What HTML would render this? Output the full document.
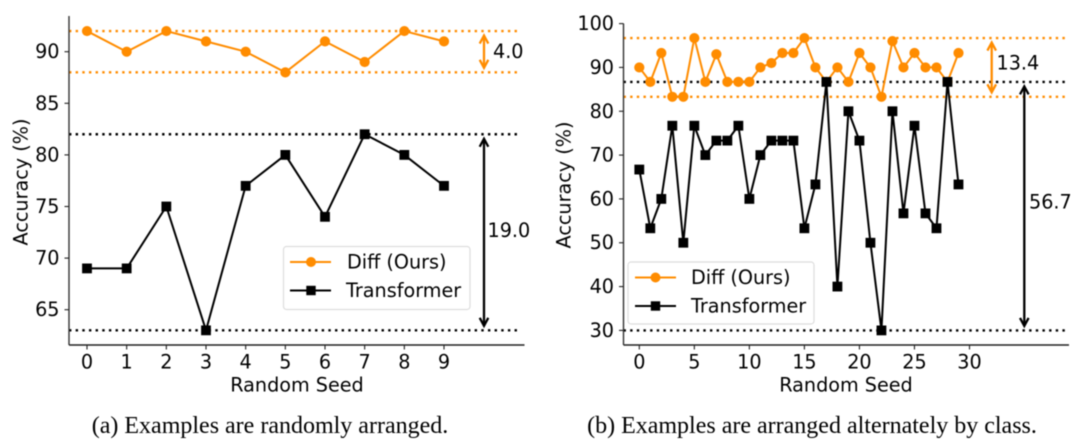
<!DOCTYPE html>
<html lang="en">
<head>
<meta charset="utf-8">
<title>Accuracy by random seed</title>
<style>
  html, body { margin: 0; padding: 0; background: #fff; width: 1080px; height: 444px; overflow: hidden; }
  svg { display: block; filter: blur(0.4px); }
  text { font-family: "DejaVu Sans", "Liberation Sans", sans-serif; font-size: 19.2px; fill: #000; }
  .caption { font-family: "Liberation Serif", serif; font-size: 24px; fill: #000; }
</style>
</head>
<body>
<svg id="figure" width="1080" height="444" viewBox="0 0 1080 444" xmlns="http://www.w3.org/2000/svg">
  <rect x="0" y="0" width="1080" height="444" fill="#fff"/>
  <g id="panelA"></g>
  <g id="panelB"></g>

  <text transform="translate(21 182) rotate(-90)" text-anchor="middle" dominant-baseline="central">Accuracy (%)</text>
  <text x="297" y="385" text-anchor="middle" dominant-baseline="central">Random Seed</text>
  <text transform="translate(564 185) rotate(-90)" text-anchor="middle" dominant-baseline="central">Accuracy (%)</text>
  <text x="846" y="385" text-anchor="middle" dominant-baseline="central">Random Seed</text>

  <g>
    <rect x="283.5" y="246.5" width="186.5" height="63" rx="3" fill="#fff" fill-opacity="0.85" stroke="#ddd" stroke-width="1.2"/>
    <line x1="290" y1="262" x2="331" y2="262" stroke="#ff8c00" stroke-width="2"/>
    <circle cx="311" cy="262" r="5" fill="#ff8c00"/>
    <text x="347" y="262" dominant-baseline="central">Diff (Ours)</text>
    <line x1="290" y1="290.5" x2="331" y2="290.5" stroke="#000" stroke-width="2"/>
    <rect x="306.3" y="285.8" width="9.4" height="9.4" fill="#000"/>
    <text x="346" y="290.5" dominant-baseline="central">Transformer</text>
  </g>

  <g>
    <rect x="628" y="262" width="186" height="62" rx="3" fill="#fff" fill-opacity="0.85" stroke="#ddd" stroke-width="1.2"/>
    <line x1="635" y1="277.5" x2="676" y2="277.5" stroke="#ff8c00" stroke-width="2"/>
    <circle cx="655.5" cy="277.5" r="5" fill="#ff8c00"/>
    <text x="691" y="277.5" dominant-baseline="central">Diff (Ours)</text>
    <line x1="635" y1="306" x2="676" y2="306" stroke="#000" stroke-width="2"/>
    <rect x="650.8" y="301.3" width="9.4" height="9.4" fill="#000"/>
    <text x="691" y="306" dominant-baseline="central">Transformer</text>
  </g>

  <text class="caption" x="270" y="433" text-anchor="middle">(a) Examples are randomly arranged.</text>
  <text class="caption" x="812" y="433" text-anchor="middle">(b) Examples are arranged alternately by class.</text>
</svg>

<script>
// Panel (a) data
const seedsA = [0, 1, 2, 3, 4, 5, 6, 7, 8, 9];
const diffA = [92, 90, 92, 91, 90, 88, 91, 89, 92, 91];
const transformerA = [69, 69, 75, 63, 77, 80, 74, 82, 80, 77];
const xTicksA = [0, 1, 2, 3, 4, 5, 6, 7, 8, 9];
const yTicksA = [65, 70, 75, 80, 85, 90];
const diffBoundsA = [88, 92];
const transformerBoundsA = [63, 82];
const diffGapA = ['4.0'];
const transformerGapA = ['19.0'];

// Panel (b) data
const seedsB = [0, 1, 2, 3, 4, 5, 6, 7, 8, 9, 10, 11, 12, 13, 14, 15, 16, 17, 18, 19, 20, 21, 22, 23, 24, 25, 26, 27, 28, 29];
const diffB = [90, 86.7, 93.3, 83.3, 83.3, 96.7, 86.7, 93, 86.7, 86.7, 86.7, 90, 91, 93.3, 93.3, 96.7, 90, 86.7, 90, 86.7, 93.3, 90, 83.3, 96, 90, 93.3, 90, 90, 86.7, 93.3];
const transformerB = [66.7, 53.3, 60, 76.7, 50, 76.7, 70, 73.3, 73.3, 76.7, 60, 70, 73.3, 73.3, 73.3, 53.3, 63.3, 86.7, 40, 80, 73.3, 50, 30, 80, 56.7, 76.7, 56.7, 53.3, 86.7, 63.3];
const xTicksB = [0, 5, 10, 15, 20, 25, 30];
const yTicksB = [30, 40, 50, 60, 70, 80, 90, 100];
const diffBoundsB = [83.3, 96.7];
const transformerBoundsB = [30, 86.7];
const diffGapB = ['13.4'];
const transformerGapB = ['56.7'];

const SVG_NS = 'http://www.w3.org/2000/svg';
const ORANGE = '#ff8c00';
const BLACK = '#000';

function make(parent, tag, attrs) {
  const el = document.createElementNS(SVG_NS, tag);
  for (const k in attrs) el.setAttribute(k, attrs[k]);
  
  parent.appendChild(el);
  return el;
}

function linearScale(d0, r0, d1, r1) {
  return function (v) { return r0 + (v - d0) * (r1 - r0) / (d1 - d0); };
}

function drawAxes(g, L, xScale, yScale, xTicks, yTicks) {
  let el = make(g, 'line', { x1: L.left, y1: L.top, x2: L.left, y2: L.bottom, stroke: '#333', 'stroke-width': 1.4 });
  
  el = make(g, 'line', { x1: L.left, y1: L.bottom, x2: L.right, y2: L.bottom, stroke: '#222', 'stroke-width': 1.4 });
  
  xTicks.forEach(function (t) {
    const mark = make(g, 'line', { x1: xScale(t), y1: L.bottom, x2: xScale(t), y2: L.bottom + 4.5, stroke: '#222', 'stroke-width': 1.1 });
    
    const label = make(g, 'text', { x: xScale(t), y: 362, 'text-anchor': 'middle', 'dominant-baseline': 'central' });
    
    label.textContent = t;
  });
  yTicks.forEach(function (t) {
    const mark = make(g, 'line', { x1: L.left - 4.5, y1: yScale(t), x2: L.left, y2: yScale(t), stroke: '#222', 'stroke-width': 1.1 });
    
    const label = make(g, 'text', { x: L.left - 9.5, y: yScale(t), 'text-anchor': 'end', 'dominant-baseline': 'central' });
    
    label.textContent = t;
  });
}

function drawBounds(g, L, yScale, bounds, color) {
  bounds.forEach(function (v) {
    const el = make(g, 'line', { x1: L.left, y1: yScale(v), x2: L.dotRight, y2: yScale(v), stroke: color, 'stroke-width': 2.4, 'stroke-dasharray': '2.4 4.25' });
    
  });
}

function drawSeries(g, xs, ys, xScale, yScale, color, shape) {
  const pts = xs.map(function (x, i) { return xScale(x).toFixed(2) + ',' + yScale(ys[i]).toFixed(2); }).join(' ');
  const line = make(g, 'polyline', { points: pts, fill: 'none', stroke: color, 'stroke-width': 2, 'stroke-linejoin': 'round' });
  
  xs.forEach(function (x, i) {
    const cx = xScale(x);
    const cy = yScale(ys[i]);
    if (shape === 'circle') {
      const dot = make(g, 'circle', { cx: cx, cy: cy, r: 5.1, fill: color });
      
    } else {
      const sq = make(g, 'rect', { x: cx - 4.9, y: cy - 4.9, width: 9.8, height: 9.8, fill: color });
      
    }
  });
}

function drawGapArrow(g, x, yTop, yBottom, color) {
  const shaft = make(g, 'line', { x1: x, y1: yTop + 1, x2: x, y2: yBottom - 1, stroke: color, 'stroke-width': 2.3 });
  
  const top = make(g, 'polyline', { points: (x - 4.3) + ',' + (yTop + 9) + ' ' + x + ',' + (yTop + 1) + ' ' + (x + 4.3) + ',' + (yTop + 9), fill: 'none', stroke: color, 'stroke-width': 2.3 });
  
  const bottom = make(g, 'polyline', { points: (x - 4.3) + ',' + (yBottom - 9) + ' ' + x + ',' + (yBottom - 1) + ' ' + (x + 4.3) + ',' + (yBottom - 9), fill: 'none', stroke: color, 'stroke-width': 2.3 });
  
}

function drawGapLabel(g, x, y, text) {
  const el = make(g, 'text', { x: x, y: y, 'dominant-baseline': 'central' });
  
  el.textContent = text;
}

function drawPanel(g, L, xScale, yScale, d) {
  drawBounds(g, L, yScale, d.diffBounds, ORANGE);
  drawBounds(g, L, yScale, d.transBounds, BLACK);
  drawSeries(g, d.seeds, d.diff, xScale, yScale, ORANGE, 'circle');
  drawSeries(g, d.seeds, d.trans, xScale, yScale, BLACK, 'square');
  drawAxes(g, L, xScale, yScale, d.xTicks, d.yTicks);
  const dTop = yScale(Math.max.apply(null, d.diffBounds));
  const dBot = yScale(Math.min.apply(null, d.diffBounds));
  const tTop = yScale(Math.max.apply(null, d.transBounds));
  const tBot = yScale(Math.min.apply(null, d.transBounds));
  drawGapArrow(g, L.diffArrowX, dTop + 3.5, dBot - 3.5, ORANGE);
  drawGapArrow(g, L.transArrowX, tTop + 3.5, tBot - 3.5, BLACK);
  drawGapLabel(g, L.diffLabelX, (dTop + dBot) / 2 + L.diffLabelDy, d.diffGap);
  drawGapLabel(g, L.transLabelX, (tTop + tBot) / 2 + L.transLabelDy, d.transGap);
}

drawPanel(
  document.getElementById('panelA'),
  { left: 69, right: 524.5, top: 16, bottom: 345, dotRight: 521, diffArrowX: 484, transArrowX: 484, diffLabelX: 493, transLabelX: 487.5, diffLabelDy: 0, transLabelDy: -2 },
  linearScale(0, 87, 9, 444),
  linearScale(90, 51.7, 65, 309.7),
  { seeds: seedsA, diff: diffA, trans: transformerA, xTicks: xTicksA, yTicks: yTicksA, diffBounds: diffBoundsA, transBounds: transformerBoundsA, diffGap: diffGapA[0], transGap: transformerGapA[0] }
);

drawPanel(
  document.getElementById('panelB'),
  { left: 623.5, right: 1069, top: 23.5, bottom: 345, dotRight: 1069, diffArrowX: 991.7, transArrowX: 1024.3, diffLabelX: 996.5, transLabelX: 1029, diffLabelDy: -4.5, transLabelDy: -4 },
  linearScale(0, 639.3, 30, 969.5),
  linearScale(100, 23.6, 30, 330.4),
  { seeds: seedsB, diff: diffB, trans: transformerB, xTicks: xTicksB, yTicks: yTicksB, diffBounds: diffBoundsB, transBounds: transformerBoundsB, diffGap: diffGapB[0], transGap: transformerGapB[0] }
);
</script>
</body>
</html>
